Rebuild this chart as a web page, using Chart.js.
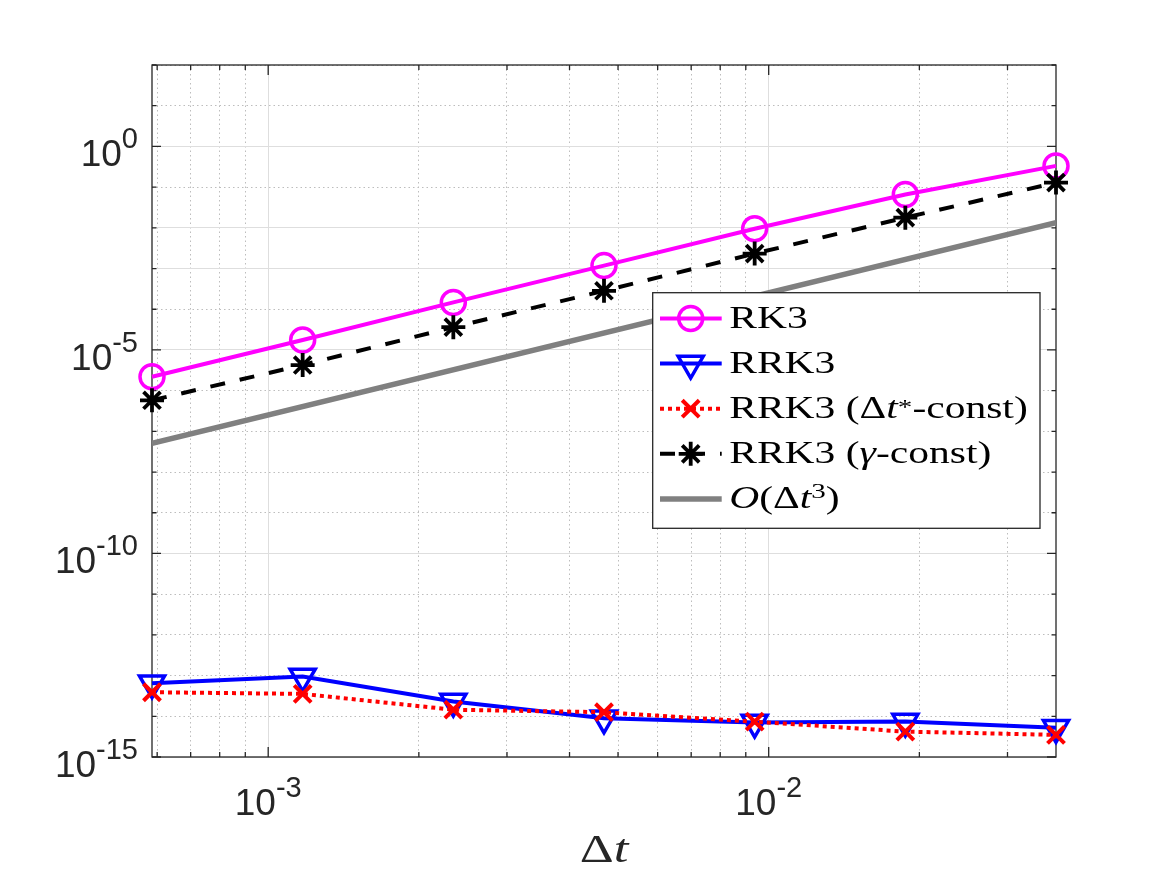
<!DOCTYPE html>
<html>
<head>
<meta charset="utf-8">
<title>RRK3 convergence</title>
<script src="https://cdn.jsdelivr.net/npm/chart.js@4.4.1/dist/chart.umd.min.js"></script>
<style>
  html, body { margin: 0; padding: 0; background: #fff; }
  canvas { display: block; }
</style>
</head>
<body>
<canvas id="chart" width="1167" height="875"></canvas>
<script>
// step sizes, halved for each run
const dt = [5.859375e-4, 1.171875e-3, 2.34375e-3, 4.6875e-3, 9.375e-3, 1.875e-2, 3.75e-2];

// errors
const errRK3 = [2.19e-6, 1.76e-5, 1.47e-4, 1.18e-3, 9.5e-3, 6.6e-2, 0.332];
const errRRK3 = [6.5e-14, 9.5e-14, 2.3e-14, 8.9e-15, 7.0e-15, 7.4e-15, 5.2e-15];
const errRRK3dt = [3.9e-14, 3.55e-14, 1.45e-14, 1.26e-14, 7.4e-15, 4.2e-15, 3.5e-15];
const errRRK3gamma = [5.8e-7, 4.26e-6, 3.63e-5, 2.84e-4, 2.33e-3, 1.78e-2, 0.129];

// third order reference line (end points)
const refDt = [5.859375e-4, 3.75e-2];
const refErr = [5.1e-8, 1.33e-2];

const seriesNames = ['RK3', 'RRK3', 'RRK3 (Δt*-const)', 'RRK3 (γ-const)', 'O(Δt³)'];

// legend labels as runs: [text, 'n'|'i', scale, raise]
const legendRuns = [
  [['RK3', 'n']],
  [['RRK3', 'n']],
  [['RRK3 (Δ', 'n'], ['t', 'i'], ['*', 'n', 0.7, 0.14], ['-const)', 'n']],
  [['RRK3 (', 'n'], ['γ', 'i'], ['-const)', 'n']],
  [['O', 'i'], ['(Δ', 'n'], ['t', 'i'], ['3', 'n', 0.7, 0.33], [')', 'n']]
];
const xTitleRuns = [['Δ', 'n'], ['t', 'i']];

const xTicks = [6e-4, 7e-4, 8e-4, 9e-4, 1e-3, 2e-3, 3e-3, 4e-3, 5e-3, 6e-3, 7e-3, 8e-3, 9e-3, 1e-2, 2e-2, 3e-2];
const xMajor = [1e-3, 1e-2];
const yTicks = [1e-15, 1e-14, 1e-13, 1e-12, 1e-11, 1e-10, 1e-9, 1e-8, 1e-7, 1e-6, 1e-5, 1e-4, 1e-3, 1e-2, 1e-1, 1e0, 1e1, 1e2];
const yMajor = [1e-15, 1e-10, 1e-5, 1e0];

const axisColor = '#262626';

function pts(xs, ys) {
  return xs.map((x, i) => ({ x: x, y: ys[i] }));
}

function drawRuns(ctx, runs, x, y, size, sx, align) {
  let w = 0;
  const parts = runs.map(r => {
    const sc = r[2] || 1;
    ctx.font = (r[1] === 'i' ? 'italic ' : '') + (size * sc) + 'px "Liberation Serif"';
    const p = { t: r[0], font: ctx.font, off: w, raise: (r[3] || 0) * size };
    w += ctx.measureText(r[0]).width;
    return p;
  });
  ctx.save();
  ctx.translate(align === 'center' ? x - w * sx / 2 : x, y);
  ctx.scale(sx, 1);
  ctx.textAlign = 'left';
  ctx.textBaseline = 'alphabetic';
  parts.forEach(p => {
    ctx.font = p.font;
    ctx.fillText(p.t, p.off, -p.raise);
  });
  ctx.restore();
}

function drawPow(ctx, v, x, base, align) {
  const exp = String(Math.round(Math.log10(v)));
  ctx.font = '37px "Liberation Sans"';
  const w1 = ctx.measureText('10').width;
  ctx.font = '29px "Liberation Sans"';
  const w2 = ctx.measureText(exp).width;
  const x0 = align === 'right' ? x - w1 - w2 : x - (w1 + w2) / 2;
  ctx.textAlign = 'left';
  ctx.textBaseline = 'alphabetic';
  ctx.font = '37px "Liberation Sans"';
  ctx.fillText('10', x0, base);
  ctx.font = '29px "Liberation Sans"';
  ctx.fillText(exp, x0 + w1, base - 18);
}

// box, inward ticks, tick labels, axis title, legend
const frame = {
  id: 'frame',
  beforeDatasetsDraw(chart) {
    const { ctx, chartArea: a } = chart;
    const xs = chart.scales.x, ys = chart.scales.y;
    ctx.save();
    ctx.strokeStyle = axisColor;
    ctx.lineWidth = 1.3;
    ctx.beginPath();
    xs.ticks.forEach(t => {
      const px = xs.getPixelForValue(t.value);
      const len = xMajor.includes(t.value) ? 10 : 5;
      ctx.moveTo(px, a.bottom); ctx.lineTo(px, a.bottom - len);
      ctx.moveTo(px, a.top); ctx.lineTo(px, a.top + len);
    });
    ys.ticks.forEach(t => {
      const py = ys.getPixelForValue(t.value);
      const len = yMajor.includes(t.value) ? 9 : 4.5;
      ctx.moveTo(a.left, py); ctx.lineTo(a.left + len, py);
      ctx.moveTo(a.right, py); ctx.lineTo(a.right - len, py);
    });
    ctx.stroke();
    ctx.strokeRect(a.left, a.top, a.right - a.left, a.bottom - a.top);
    ctx.restore();
  },
  afterDraw(chart) {
    const { ctx, chartArea: a } = chart;
    const xs = chart.scales.x, ys = chart.scales.y;
    ctx.save();
    ctx.fillStyle = axisColor;
    yMajor.forEach(v => drawPow(ctx, v, a.left - 14, ys.getPixelForValue(v) + 20, 'right'));
    xMajor.forEach(v => drawPow(ctx, v, xs.getPixelForValue(v), a.bottom + 58, 'center'));
    drawRuns(ctx, xTitleRuns, (a.left + a.right) / 2, a.bottom + 105, 40, 1.32, 'center');

    // legend
    const lx = 652.7, ly = 292.7, lw = 387.3, lh = 235.6;
    ctx.fillStyle = '#fff';
    ctx.fillRect(lx, ly, lw, lh);
    ctx.strokeStyle = axisColor;
    ctx.lineWidth = 1.3;
    ctx.strokeRect(lx, ly, lw, lh);
    chart.data.datasets.forEach((ds, i) => {
      const cy = ly + 25.8 + i * 45.1;
      ctx.save();
      ctx.strokeStyle = ds.borderColor;
      ctx.lineWidth = ds.borderWidth;
      ctx.setLineDash(ds.borderDash || []);
      ctx.beginPath();
      ctx.moveTo(lx + 7.3, cy);
      ctx.lineTo(lx + 69, cy);
      ctx.stroke();
      ctx.setLineDash([]);
      if (ds.pointRadius > 0) {
        ctx.strokeStyle = ds.pointBorderColor;
        ctx.fillStyle = 'rgba(0,0,0,0)';
        ctx.lineWidth = ds.pointBorderWidth;
        Chart.helpers.drawPoint(ctx, {
          pointStyle: ds.pointStyle,
          rotation: ds.pointRotation || 0,
          radius: ds.pointRadius,
          borderWidth: ds.pointBorderWidth
        }, lx + 38, cy);
      }
      ctx.restore();
      ctx.fillStyle = '#000';
      drawRuns(ctx, legendRuns[i], lx + 76.5, cy + 9.5, 31, 1.34, 'left');
    });
    ctx.restore();
  }
};

const gridColor = ctx => {
  const v = ctx.tick ? ctx.tick.value : 0;
  return (xMajor.includes(v) || yMajor.includes(v)) ? '#dedede' : '#bdbdbd';
};
const gridDash = ctx => {
  const v = ctx.tick ? ctx.tick.value : 0;
  return (xMajor.includes(v) || yMajor.includes(v)) ? [] : [1.5, 3];
};

new Chart(document.getElementById('chart'), {
  type: 'line',
  data: {
    datasets: [
      {
        label: seriesNames[0],
        data: pts(dt, errRK3),
        borderColor: '#ff00ff',
        borderWidth: 4,
        pointStyle: 'circle',
        pointRadius: 12,
        pointBorderWidth: 3.5,
        pointBorderColor: '#ff00ff',
        pointBackgroundColor: 'rgba(0,0,0,0)',
        order: 5,
        clip: false
      },
      {
        label: seriesNames[1],
        data: pts(dt, errRRK3),
        borderColor: '#0000ff',
        borderWidth: 4,
        pointStyle: 'triangle',
        pointRotation: 180,
        pointRadius: 14.5,
        pointBorderWidth: 3.5,
        pointBorderColor: '#0000ff',
        pointBackgroundColor: 'rgba(0,0,0,0)',
        order: 4,
        clip: false
      },
      {
        label: seriesNames[2],
        data: pts(dt, errRRK3dt),
        borderColor: '#ff0000',
        borderWidth: 4,
        borderDash: [4, 4],
        pointStyle: 'crossRot',
        pointRadius: 12,
        pointBorderWidth: 4,
        pointBorderColor: '#ff0000',
        pointBackgroundColor: 'rgba(0,0,0,0)',
        order: 3,
        clip: false
      },
      {
        label: seriesNames[3],
        data: pts(dt, errRRK3gamma),
        borderColor: '#000000',
        borderWidth: 4,
        borderDash: [15, 15],
        pointStyle: 'star',
        pointRadius: 12,
        pointBorderWidth: 3.8,
        pointBorderColor: '#000000',
        pointBackgroundColor: 'rgba(0,0,0,0)',
        order: 2,
        clip: false
      },
      {
        label: seriesNames[4],
        data: pts(refDt, refErr),
        borderColor: '#808080',
        borderWidth: 5.5,
        pointRadius: 0,
        order: 1
      }
    ]
  },
  options: {
    responsive: false,
    animation: false,
    events: [],
    layout: { padding: { top: 65, right: 111, left: 0, bottom: 0 } },
    plugins: {
      legend: { display: false },
      tooltip: { enabled: false }
    },
    scales: {
      x: {
        type: 'logarithmic',
        min: dt[0],
        max: dt[dt.length - 1],
        afterBuildTicks: s => { s.ticks = xTicks.map(v => ({ value: v })); },
        afterFit: s => { s.height = 118; },
        ticks: { display: false, autoSkip: false },
        grid: { color: gridColor, lineWidth: 1, drawTicks: false },
        border: { display: false, dash: gridDash }
      },
      y: {
        type: 'logarithmic',
        min: 1e-15,
        max: 1e2,
        afterBuildTicks: s => { s.ticks = yTicks.map(v => ({ value: v })); },
        afterFit: s => { s.width = 152; },
        ticks: { display: false, autoSkip: false },
        grid: { color: gridColor, lineWidth: 1, drawTicks: false },
        border: { display: false, dash: gridDash }
      }
    }
  },
  plugins: [frame]
});
</script>
</body>
</html>
